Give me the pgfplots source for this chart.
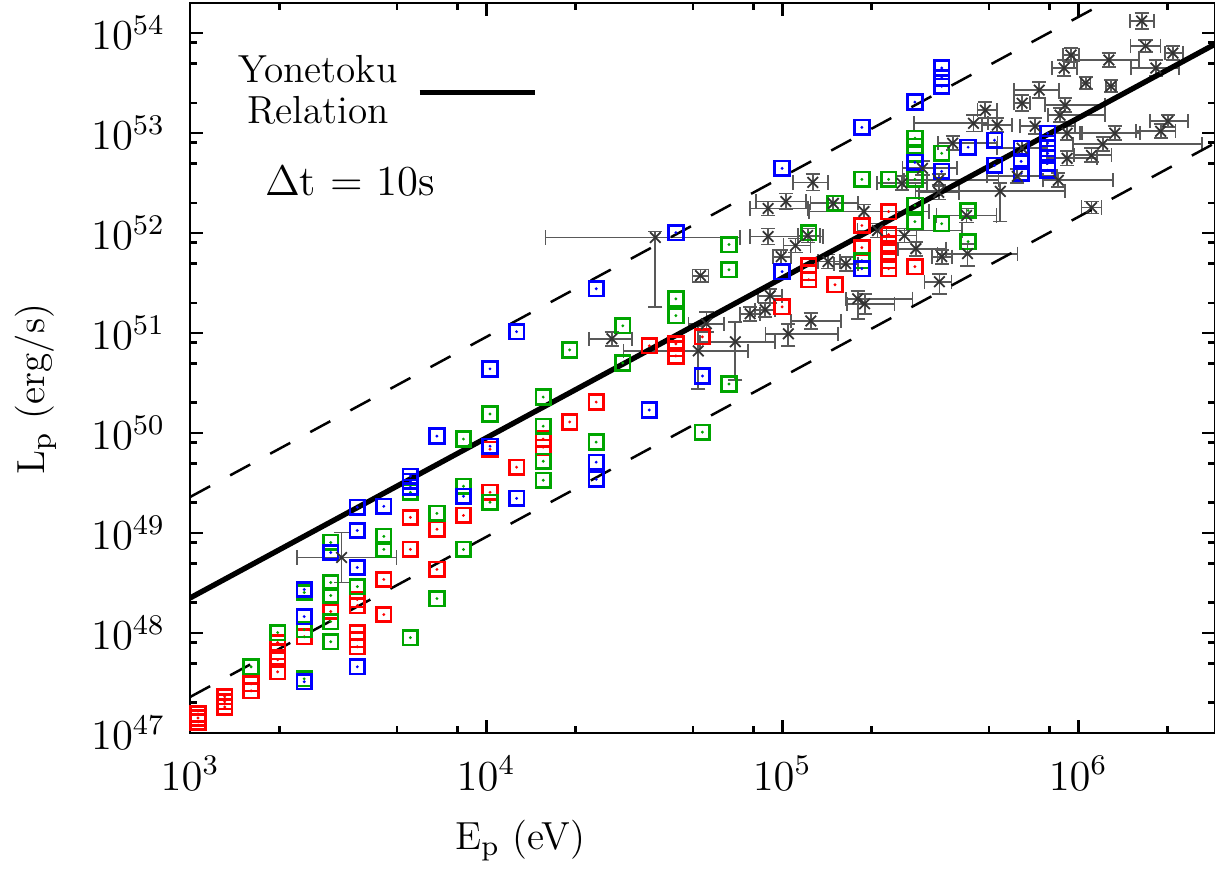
\documentclass[border=0pt]{standalone}
\usepackage{pgfplots}
\pgfplotsset{compat=1.18}

\definecolor{sqred}{RGB}{255,0,0}
\definecolor{sqgreen}{RGB}{0,165,0}
\definecolor{sqblue}{RGB}{0,0,255}

% open square with a dot in the middle
\pgfdeclareplotmark{sqdot}{%
  \pgfpathrectangle{\pgfpoint{-\pgfplotmarksize}{-\pgfplotmarksize}}%
    {\pgfpoint{2\pgfplotmarksize}{2\pgfplotmarksize}}%
  \pgfusepathqstroke
  \pgfpathcircle{\pgfpointorigin}{0.45pt}%
  \pgfusepathqfill
}

\begin{document}
\begin{tikzpicture}
\begin{axis}[
  at={(0,0)}, anchor=south west,
  scale only axis, width=10.123cm, height=7.21cm,
  xmode=log, ymode=log,
  xmin=1e3, xmax=2.9e6, ymin=1e47, ymax=2e54,
  xtick={1e3,1e4,1e5,1e6},
  ytick={1e47,1e48,1e49,1e50,1e51,1e52,1e53,1e54},
  minor xtick={2e3,5e3,8e3,2e4,5e4,8e4,2e5,5e5,8e5,2e6},
  minor ytick={2e47,5e47,8e47,2e48,5e48,8e48,2e49,5e49,8e49,2e50,5e50,8e50,
               2e51,5e51,8e51,2e52,5e52,8e52,2e53,5e53,8e53},
  tick align=inside,
  major tick length=3.6pt, minor tick length=2pt,
  every tick/.style={black, line width=0.8pt},
  axis line style={line width=0.8pt},
  ticklabel style={font=\fontsize{12}{14}\selectfont},
  xticklabel style={yshift=-3pt},
  yticklabel style={xshift=-3.5pt},
  label style={font=\fontsize{11}{13}\selectfont},
  xlabel={E$_\mathrm{p}$ (eV)},
  ylabel={L$_\mathrm{p}$ (erg/s)},
  xlabel style={inner sep=0pt, anchor=north, at={(axis description cs:0.322,-0.118)}},
  ylabel style={inner sep=0pt, anchor=north, at={(axis description cs:-0.171,0.471)}},
]

% red
\addplot[only marks, sqred, mark=sqdot, mark size=2.05pt, line width=0.75pt] table {
x y
1064 1.41e47
1064 1.55e47
1064 1.29e47
1309 2.30e47
1309 2.05e47
1309 1.82e47
1608 3.10e47
1608 2.64e47
1977 8.0e47
1977 6.49e47
1977 5.40e47
1977 4.09e47
2430 9.18e47
2987 1.64e48
3673 1.01e48
3673 8.57e47
3673 7.29e47
3673 2.16e48
3673 1.88e48
4515 1.53e48
4515 3.43e48
5550 6.85e48
5550 1.43e49
6823 4.32e48
6823 1.09e49
8388 1.50e49
10310 2.55e49
10310 6.89e49
12680 4.55e49
15590 7.22e49
15590 8.69e49
19160 1.29e50
23550 2.04e50
35600 7.45e50
43770 7.80e50
43770 6.95e50
43770 5.90e50
53810 9.16e50
1.0e5 1.83e51
1.23e5 4.72e51
1.23e5 4.02e51
1.23e5 3.42e51
1.51e5 3.04e51
1.86e5 1.19e52
1.86e5 7.16e51
2.29e5 1.64e52
2.29e5 9.66e51
2.29e5 7.85e51
2.29e5 6.52e51
2.29e5 5.30e51
2.29e5 4.40e51
2.81e5 4.61e51
};

% green
\addplot[only marks, sqgreen, mark=sqdot, mark size=2.05pt, line width=0.75pt] table {
x y
1608 4.59e47
1977 1.01e48
2430 3.48e47
2430 1.08e48
2430 2.54e48
2987 8.18e47
2987 1.30e48
2987 2.37e48
2987 3.20e48
2987 8.05e48
3673 2.91e48
4515 6.85e48
4515 9.25e48
5550 8.97e47
5550 2.55e49
6823 2.21e48
6823 1.57e49
8388 6.85e48
8388 2.93e49
8388 8.69e49
10310 2.03e49
10310 1.55e50
15590 3.37e49
15590 5.22e49
15590 1.17e50
15590 2.29e50
19160 6.78e50
23550 8.11e49
28960 1.18e51
28960 5.02e50
43770 2.20e51
43770 1.49e51
53810 1.02e50
66150 7.67e51
66150 4.30e51
66150 3.09e50
1.23e5 1.01e52
1.51e5 1.98e52
1.86e5 3.44e52
1.86e5 5.30e51
2.29e5 3.44e52
2.81e5 8.87e52
2.81e5 7.38e52
2.81e5 6.14e52
2.81e5 3.44e52
2.81e5 1.89e52
2.81e5 1.30e52
3.46e5 6.27e52
3.46e5 1.24e52
4.25e5 1.68e52
4.25e5 8.22e51
};

% blue
\addplot[only marks, sqblue, mark=sqdot, mark size=2.05pt, line width=0.75pt] table {
x y
2430 3.25e47
2430 1.46e48
2430 2.72e48
2987 6.38e48
3673 4.59e47
3673 4.52e48
3673 1.06e49
3673 1.81e49
4515 1.85e49
5550 3.70e49
5550 3.30e49
5550 2.87e49
6823 9.31e49
8388 2.33e49
10310 7.39e49
10310 4.38e50
12680 2.22e49
12680 1.03e51
23550 5.11e49
23550 3.45e49
23550 2.77e51
35600 1.70e50
43770 1.01e52
53810 3.72e50
1.0e5 4.44e52
1.0e5 4.11e51
1.86e5 1.14e53
1.86e5 4.40e51
2.81e5 2.04e53
2.81e5 5.09e52
3.46e5 4.47e53
3.46e5 3.55e53
3.46e5 2.94e53
3.46e5 4.14e52
4.25e5 7.21e52
5.22e5 8.47e52
5.22e5 4.75e52
6.42e5 7.05e52
6.42e5 5.21e52
6.42e5 3.95e52
7.89e5 9.95e52
7.89e5 7.91e52
7.89e5 6.27e52
7.89e5 4.98e52
7.89e5 4.24e52
};

% observed bursts, relative errors
\addplot[only marks, black!80, mark=x, mark size=2.1pt, line width=0.5pt,
  error bars/.cd, x dir=both, x explicit relative, y dir=both, y explicit relative,
  error bar style={line width=0.5pt, black!65},
  error mark options={rotate=90, mark size=2pt, line width=0.5pt, black!65}]
  table[x=x, y=y, x error minus=exm, x error plus=exp, y error minus=eym, y error plus=eyp] {
x y exm exp eym eyp
1.64e6 1.32e54 0.089 0.098 0.169 0.203
1.69e6 7.43e53 0.110 0.123 0.129 0.149
2.09e6 6.31e53 0.060 0.081 0.149 0.175
9.46e5 6.03e53 0.060 0.064 0.149 0.175
1.27e6 5.37e53 0.238 0.262 0.149 0.175
8.97e5 4.47e53 0.089 0.106 0.169 0.203
1.83e6 4.47e53 0.176 0.195 0.169 0.203
1.06e6 3.16e53 0.038 0.039 0.129 0.149
1.29e6 2.94e53 0.038 0.039 0.129 0.149
7.39e5 2.69e53 0.176 0.168 0.169 0.203
6.47e5 1.99e53 0.060 0.064 0.169 0.203
9.04e5 1.90e53 0.144 0.363 0.149 0.175
8.69e5 1.51e53 0.089 0.418 0.149 0.175
4.86e5 1.69e53 0.060 0.098 0.169 0.203
4.43e5 1.25e53 0.372 0.123 0.169 0.203
7.16e5 1.17e53 0.110 0.363 0.169 0.203
2.01e6 1.31e53 0.130 0.168 0.129 0.149
1.90e6 1.04e53 0.176 0.123 0.149 0.175
1.33e6 9.95e52 0.238 0.214 0.149 0.175
9.18e5 9.95e52 0.089 0.123 0.149 0.175
1.21e6 7.73e52 0.208 1.172 0.149 0.175
1.11e6 5.98e52 0.130 0.168 0.149 0.175
8.57e5 3.37e52 0.110 0.532 0.149 0.175
5.46e5 2.61e52 0.483 0.655 0.500 0.203
1.11e6 1.80e52 0.075 0.081 0.129 0.149
4.20e5 1.50e52 0.208 0.262 0.149 0.175
3.38e5 2.55e52 0.144 0.168 0.149 0.175
3.38e5 3.37e52 0.238 0.592 0.129 0.149
2.54e5 3.14e52 0.176 0.214 0.149 0.175
1.89e5 1.64e52 0.347 0.655 0.149 0.175
1.49e5 1.98e52 0.163 0.214 0.149 0.175
1.27e5 3.21e52 0.144 0.123 0.169 0.203
1.03e5 2.07e52 0.208 0.168 0.169 0.203
8.97e4 9.23e51 0.130 0.532 0.169 0.203
3.73e4 9.02e51 0.574 0.932 0.797 0.149
5.30e4 3.75e51 0.060 0.064 0.129 0.149
8.97e4 1.76e52 0.130 0.363 0.149 0.175
1.11e5 7.50e51 0.089 0.123 0.149 0.175
9.93e4 5.81e51 0.060 0.081 0.149 0.175
1.22e5 9.44e51 0.075 0.098 0.149 0.175
1.43e5 5.18e51 0.075 0.098 0.149 0.175
1.64e5 4.94e51 0.089 0.098 0.149 0.175
2.59e5 9.44e51 0.130 0.098 0.149 0.175
2.83e5 6.98e51 0.130 0.262 0.149 0.175
4.23e5 6.22e51 0.208 0.474 0.242 0.260
3.40e5 3.26e51 0.110 0.098 0.242 0.203
1.80e5 2.20e51 0.089 0.532 0.370 0.203
1.90e5 1.96e51 0.130 0.262 0.206 0.260
1.25e5 1.32e51 0.144 0.262 0.169 0.203
1.05e5 9.82e50 0.163 0.474 0.242 0.260
7.80e4 1.56e51 0.075 0.081 0.149 0.175
8.77e4 1.71e51 0.075 0.081 0.149 0.175
9.12e4 2.36e51 0.089 0.098 0.149 0.175
5.55e4 1.24e51 0.130 0.150 0.169 0.319
6.95e4 8.17e50 0.238 0.363 0.584 0.587
5.21e4 6.62e50 0.441 0.474 0.584 0.781
2.66e4 8.75e50 0.163 0.168 0.149 0.175
3.25e3 5.69e48 0.295 0.532 0.439 0.781
6.47e5 7.05e52 0.176 0.214 0.149 0.175
5.33e5 1.20e53 0.110 0.123 0.149 0.175
3.77e5 7.91e52 0.110 0.418 0.149 0.175
2.10e5 1.06e52 0.144 0.932 0.149 0.175
2.98e5 4.44e52 0.144 0.311 0.149 0.175
9.18e5 5.58e52 0.144 0.262 0.149 0.175
6.23e5 3.69e52 0.208 0.363 0.149 0.175
3.46e5 5.81e51 0.075 0.081 0.149 0.175
};

% Yonetoku relation and its scatter band
\addplot[black, line width=0.7pt, dash pattern=on 6.4pt off 6.4pt] coordinates {(1e3,2.29e49) (3e6,8.38e54)};
\addplot[black, line width=0.7pt, dash pattern=on 6.4pt off 6.4pt] coordinates {(1e3,2.29e47) (3e6,8.38e52)};
\addplot[black, line width=1.5pt] coordinates {(1e3,2.24e48) (3e6,8.18e53)};

\node[align=center, font=\fontsize{11}{11.3}\selectfont] at (rel axis cs:0.125,0.881) {Yonetoku\\Relation};
\draw[line width=1.5pt] (rel axis cs:0.224,0.877) -- (rel axis cs:0.337,0.877);
\node[font=\fontsize{12}{14}\selectfont] at (rel axis cs:0.156,0.755) {$\Delta$t = 10s};
\end{axis}
\pgfresetboundingbox
\path[use as bounding box] (-1.877cm,-1.383cm) rectangle (10.123cm,7.24cm);
\end{tikzpicture}
\end{document}
